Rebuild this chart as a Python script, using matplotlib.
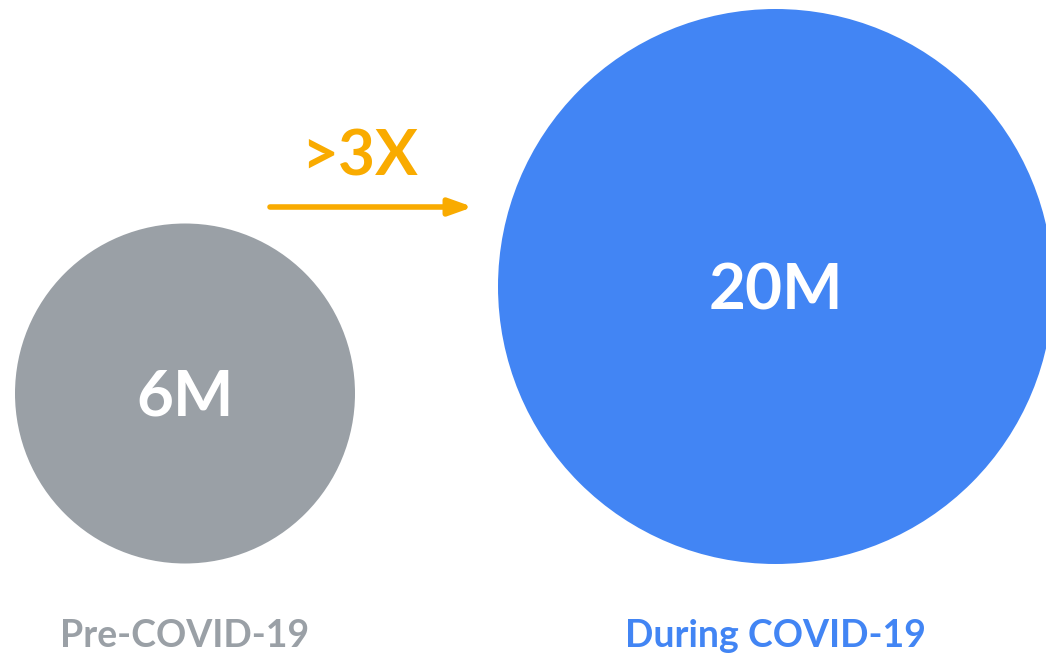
import matplotlib
matplotlib.use("Agg")
import matplotlib.pyplot as plt
from matplotlib.patches import Circle

# data
periods = ["Pre-COVID-19", "During COVID-19"]
values = [6, 20]  # millions
value_labels = ["6M", "20M"]
growth_label = ">3X"

# layout (pixel coordinates, y down)
centers = [(185, 393.5), (775.5, 286.5)]
radii = [170, 277.5]
colors = ["#9AA0A6", "#4285F4"]
label_colors = ["#9AA0A6", "#4285F4"]
orange = "#F9AB00"

plt.rcParams["font.family"] = ["Lato", "DejaVu Sans"]

W, H = 1046, 653
fig = plt.figure(figsize=(W / 100, H / 100), dpi=100)
ax = fig.add_axes([0, 0, 1, 1])
ax.set_xlim(0, W)
ax.set_ylim(H, 0)
ax.set_aspect("equal")
ax.axis("off")

for (cx, cy), r, c, vl, per, lc in zip(centers, radii, colors, value_labels, periods, label_colors):
    ax.add_patch(Circle((cx, cy), r, color=c, lw=0))
    ax.text(cx, cy + 4, vl, ha="center", va="center", color="white",
            fontsize=46, fontweight="bold")
    ax.text(cx, 647, per, ha="center", va="baseline", color=lc,
            fontsize=27, fontweight="bold")

# growth arrow
ax.annotate("", xy=(473, 207), xytext=(270, 207),
            arrowprops=dict(arrowstyle="-|>,head_length=1.4,head_width=0.5",
                            color=orange, lw=4, shrinkA=0, shrinkB=0))
ax.text(360, 175, growth_label, ha="center", va="baseline", color=orange,
        fontsize=46, fontweight="bold")

fig.savefig("out.png", dpi=100)
